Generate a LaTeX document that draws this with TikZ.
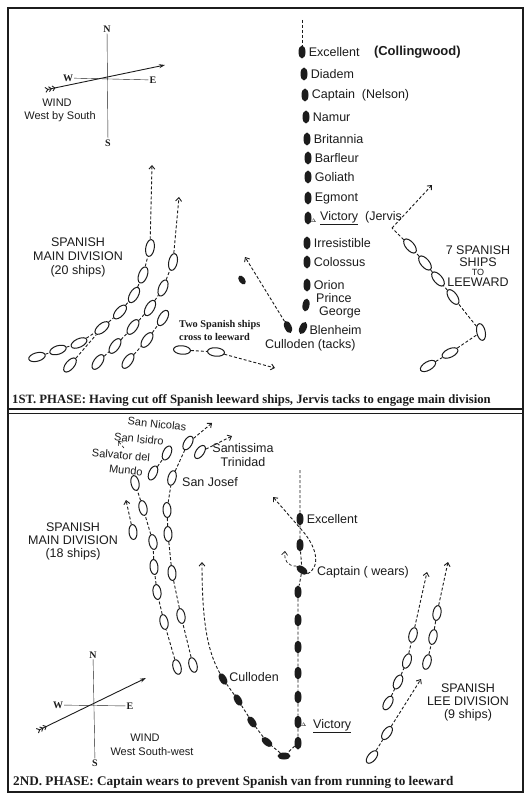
\documentclass[tikz,border=0pt]{standalone}
\usepackage{fontspec}
\setmainfont{Liberation Serif}
\setsansfont{Liberation Sans}
\usetikzlibrary{arrows.meta}
\usetikzlibrary{positioning}
\usetikzlibrary{shapes.geometric}
\definecolor{inkBlack}{RGB}{28,28,28}
\tikzstyle{spship} = [draw=inkBlack, line width=1pt, fill=white, ellipse, minimum width=8.5pt, minimum height=17pt, inner sep=0pt]
\tikzstyle{spshipb} = [spship, minimum width=8pt, minimum height=15pt]
\tikzstyle{brship} = [fill=inkBlack, ellipse, minimum width=7pt, minimum height=13pt, inner sep=0pt]
\tikzstyle{course} = [inkBlack, line width=0.9pt, dash pattern=on 3pt off 2pt]
\tikzstyle{arrow} = [course, -{Straight Barb[length=3.5pt,width=6pt]}]
\tikzstyle{wind} = [inkBlack, line width=0.9pt, arrows={Straight Barb[reversed,length=2.5pt,width=5pt]Straight Barb[reversed,length=2.5pt,width=5pt]Straight Barb[reversed,length=2.5pt,width=5pt]-Stealth[length=6pt,width=4pt]}]
\tikzstyle{compass} = [font=\fontsize{10}{10}\selectfont\bfseries, inner sep=1pt, text=inkBlack]
\tikzstyle{shiptag} = [font=\fontsize{12.5}{14}\selectfont\sffamily, inner sep=1pt, text=inkBlack]
\tikzstyle{vantag} = [font=\fontsize{11}{12}\selectfont\sffamily, inner sep=0pt, text=inkBlack]
\tikzstyle{fleettag} = [font=\fontsize{12.5}{14}\selectfont\sffamily, align=center, inner sep=1pt, text=inkBlack]
\tikzstyle{windtag} = [font=\fontsize{11}{12}\selectfont\sffamily, inner sep=1pt, text=inkBlack]
\tikzstyle{notetag} = [font=\fontsize{10.3}{13}\selectfont\bfseries, align=left, inner sep=1pt, text=inkBlack]
\tikzstyle{caption} = [font=\fontsize{12.7}{13}\selectfont\bfseries, inner sep=0pt, text=inkBlack, anchor=west]

\begin{document}
\begin{tikzpicture}[x=1pt,y=-1pt]

    \useasboundingbox (0,0) rectangle (531,802);
    \fill[white] (0,0) rectangle (531,802);

    % frame of both phases
    \draw[inkBlack, line width=1.6pt] (8,8) rectangle (523,792);
    \draw[inkBlack, line width=1.2pt] (8,409) -- (523,409);
    \draw[inkBlack, line width=0.5pt] (8,413) -- (523,413);

    %%%%%%%% 1st phase %%%%%%%%
    \node[compass] (N1) at (107,29) {N};
    \node[compass] (S1) at (108,143) {S};
    \node[compass] (W1) at (68,78) {W};
    \node[compass] (E1) at (153,80) {E};
    \draw[inkBlack, thin] (N1) -- (S1);
    \draw[inkBlack, thin] (W1) -- (E1);
    \coordinate (WindFrom1) at (45,90);
    \coordinate (WindTo1) at (165,65);
    \draw[wind] (WindFrom1) -- (WindTo1);
    \node[windtag] at (57,103) {WIND};
    \node[windtag] at (60,117) {West by South};

    % British line
    \coordinate (BrTop1) at (302,20);
    \node[brship] (Excellent) at (302,52) {};
    \draw[course] (BrTop1) -- (Excellent);
    \node[shiptag, right=2pt of Excellent] (ExcellentTag) {Excellent};
    \node[shiptag, font=\fontsize{13}{14}\selectfont\sffamily\bfseries, right=12pt of ExcellentTag] {(Collingwood)};
    \node[brship] (Captain) at (305,95) {};
    \node[shiptag, right=2pt of Captain] {Captain\ \ (Nelson)};
    \foreach \n/\x/\y in {Diadem/304/74, Namur/306/117, Britannia/307/139,
        Barfleur/308/158, Goliath/308/177, Egmont/308/198,
        Irresistible/307/243, Colossus/307/262, Orion/307/285}{
      \node[brship] (\n) at (\x,\y) {};
      \node[shiptag, right=2pt of \n] {\n};
    }
    \node[brship] (Victory) at (308,218) {};
    \node[font=\tiny, inner sep=0pt, anchor=south west] (VictoryMark) at (Victory.south east) {$\Delta$};
    \node[shiptag, anchor=west] (VictoryTag) at (319,218) {\underline{Victory}\ \ (Jervis};
    \node[brship, rotate=-10] (PrinceGeorge) at (306,305) {};
    \node[shiptag, anchor=west] at (315,298) {Prince};
    \node[shiptag, anchor=west] at (318,312) {George};
    \node[brship, rotate=-25] (Blenheim) at (303,328) {};
    \node[shiptag, right=2pt of Blenheim] {Blenheim};
    \node[brship, rotate=25] (Culloden) at (288,327) {};
    \node[shiptag, anchor=west] at (264,345) {Culloden (tacks)};
    \node[brship, rotate=35, minimum width=6pt, minimum height=10pt] (CullodenTurn) at (242,280) {};
    \coordinate (CullodenTo) at (245,257);
    \draw[arrow] (Culloden) -- (CullodenTo);

    % two ships crossing
    \node[spship, rotate=-95] (Cross1) at (182,350) {};
    \node[spship, rotate=-95] (Cross2) at (216,352) {};
    \coordinate (CrossTo) at (275,368);
    \draw[course] (Cross1) -- (Cross2);
    \draw[arrow] (Cross2) -- (CrossTo);
    \node[notetag, anchor=west] at (178,330) {Two Spanish ships\\cross to leeward};

    % Spanish ships to leeward
    \node[spship, rotate=-60] (Lee1) at (428,366) {};
    \node[spship, rotate=-65] (Lee2) at (450,353) {};
    \node[spship, rotate=12] (Lee3) at (481,332) {};
    \node[spship, rotate=35] (Lee4) at (453,297) {};
    \node[spship, rotate=40] (Lee5) at (438,279) {};
    \node[spship, rotate=40] (Lee6) at (425,263) {};
    \node[spship, rotate=40] (Lee7) at (410,246) {};
    \coordinate (LeeTurn) at (392,228);
    \coordinate (LeeTo) at (432,185);
    \draw[course] (Lee1) -- (Lee2) -- (Lee3) -- (Lee4) -- (Lee5) -- (Lee6) -- (Lee7) -- (LeeTurn);
    \draw[arrow] (LeeTurn) -- (LeeTo);
    \node[fleettag] at (478,266) {7 SPANISH\\[-2pt]SHIPS\\[-5pt]{\fontsize{9}{9}\selectfont TO}\\[-3pt]LEEWARD};

    % Spanish main division
    \foreach \n/\x/\y/\r in {A1/37/357/-75, A2/58/350/-72, A3/79/343/-65, A4/102/328/-50,
        A5/120/312/-42, A6/134/295/-30, A7/143/275/-20, A8/150/248/-10,
        B1/70/365/-40,
        C1/98/362/-35, C2/115/346/-35, C3/133/327/-35, C4/150/308/-30,
        C5/163/288/-22, C6/173/262/-12,
        D1/128/361/-35, D2/147/340/-35, D3/163/318/-30}{
      \node[spship, rotate=\r] (\n) at (\x,\y) {};
    }
    \coordinate (MainToA) at (152,165);
    \coordinate (MainToC) at (179,197);
    \draw[course] (A1) -- (A2) -- (A3) -- (A4) -- (A5) -- (A6) -- (A7) -- (A8);
    \draw[arrow] (A8) -- (MainToA);
    \draw[course] (B1) -- (A4);
    \draw[course] (C1) -- (C2) -- (C3) -- (C4) -- (C5) -- (C6);
    \draw[arrow] (C6) -- (MainToC);
    \draw[course] (D1) -- (D2) -- (D3);
    \node[fleettag] at (78,257) {SPANISH\\MAIN DIVISION\\(20 ships)};

    \node[caption] at (12,400) {1ST. PHASE: Having cut off Spanish leeward ships, Jervis tacks to engage main division};

    %%%%%%%% 2nd phase %%%%%%%%
    \node[compass] (N2) at (93,655) {N};
    \node[compass] (S2) at (95,763) {S};
    \node[compass] (W2) at (58,705) {W};
    \node[compass] (E2) at (130,706) {E};
    \draw[inkBlack, thin] (N2) -- (S2);
    \draw[inkBlack, thin] (W2) -- (E2);
    \coordinate (WindFrom2) at (37,731);
    \coordinate (WindTo2) at (146,678);
    \draw[wind] (WindFrom2) -- (WindTo2);
    \node[windtag] at (145,738) {WIND};
    \node[windtag] at (152,752) {West South-west};

    % Spanish van
    \node[spshipb, rotate=-30] (SanNicolas) at (188,443) {};
    \node[spshipb, rotate=-25] (SanIsidro) at (167,453) {};
    \node[spshipb, rotate=-35] (Trinidad) at (200,452) {};
    \node[spshipb, rotate=-25] (Salvator) at (153,473) {};
    \node[spshipb, rotate=-15] (SanJosef) at (172,478) {};
    \coordinate (NicolasTo) at (212,423);
    \coordinate (TrinidadTo) at (232,436);
    \coordinate (IsidroFrom) at (124,448);
    \coordinate (IsidroTo) at (118,441);
    \draw[course] (Salvator) -- (SanIsidro);
    \draw[course] (SanJosef) -- (SanNicolas);
    \draw[arrow] (SanNicolas) -- (NicolasTo);
    \draw[arrow] (Trinidad) -- (TrinidadTo);
    \draw[arrow, line width=0.6pt] (IsidroFrom) -- (IsidroTo);
    \node[vantag, rotate=-6] at (157,424) {San Nicolas};
    \node[vantag, rotate=-6] at (139,439) {San Isidro};
    \node[vantag, rotate=-5] at (121,455) {Salvator del};
    \node[vantag, rotate=-6] at (126,470) {Mundo};
    \node[shiptag] at (243,448) {Santissima};
    \node[shiptag] at (243,462) {Trinidad};
    \node[shiptag] at (210,482) {San Josef};

    % Spanish main division
    \foreach \n/\x/\y/\r in {M1/135/483/12, M2/143/508/12, M3/153/542/10, M4/154/567/6,
        M5/157/592/8, M6/164/622/12, M7/177/667/15,
        K1/167/510/3, K2/168/534/3, K3/172/573/6, K4/181/616/10, K5/193/665/15,
        Detached/133/532/5}{
      \node[spshipb, rotate=\r] (\n) at (\x,\y) {};
    }
    \coordinate (DetachedTo) at (126,500);
    \draw[course] (M7) -- (M6) -- (M5) -- (M4) -- (M3) -- (M2) -- (M1);
    \draw[course] (K5) -- (K4) -- (K3) -- (K2) -- (K1) -- (SanJosef);
    \draw[arrow] (Detached) -- (DetachedTo);
    \node[fleettag] at (73,541) {SPANISH\\[-1pt]MAIN DIVISION\\[-1pt](18 ships)};

    % British line
    \coordinate (BrTop2) at (300,470);
    \node[brship] (Excellent2) at (300,519) {};
    \node[shiptag, right=2pt of Excellent2] {Excellent};
    \node[brship] (Follow2) at (300,545) {};
    \node[brship, rotate=55] (Captain2) at (302,570) {};
    \node[shiptag, anchor=west] at (316,572) {Captain ( wears)};
    \foreach \n/\y in {F1/592, F2/620, F3/647, F4/673, F5/697, Victory2/722, F6/743}{
      \node[brship] (\n) at (298,\y) {};
    }
    \node[font=\tiny, inner sep=0pt, anchor=south west] (VictoryMark2) at (Victory2.south east) {$\Delta$};
    \node[shiptag, anchor=west] at (312,726) {\underline{Victory}};
    \node[brship, rotate=90] (Turn2) at (284,756) {};
    \node[brship, rotate=50] (G1) at (267,742) {};
    \node[brship, rotate=35] (G2) at (252,722) {};
    \node[brship, rotate=30] (G3) at (238,700) {};
    \node[brship, rotate=30] (Culloden2) at (223,679) {};
    \node[shiptag, right=2pt of Culloden2] {Culloden};
    \coordinate (CullodenTo2) at (202,562);
    \coordinate (WearTo) at (273,497);
    \coordinate (WearBack) at (285,551);
    \draw[course] (BrTop2) -- (Excellent2) -- (Follow2) -- (Captain2) -- (F1) -- (F2) -- (F3) -- (F4)
        -- (F5) -- (Victory2) -- (F6) -- (Turn2) -- (G1) -- (G2) -- (G3) -- (Culloden2);
    \draw[arrow] (Culloden2) .. controls (207,650) and (202,620) .. (CullodenTo2);
    \draw[arrow] (Captain2.south) .. controls (322,566) and (316,545) .. (300,528) -- (WearTo);
    \draw[arrow, line width=0.7pt] (Captain2.north) .. controls (287,566) and (284,560) .. (WearBack);

    % Spanish lee division
    \foreach \n/\x/\y/\r in {R1/437/613/-10, R2/433/637/-12, R3/427/662/-15,
        L1/413/635/-15, L2/407/661/-20, L3/398/682/-25, L4/388/703/-30,
        L5/387/733/-35, L6/372/757/-40}{
      \node[spshipb, rotate=\r] (\n) at (\x,\y) {};
    }
    \coordinate (LeeUp) at (421,679);
    \coordinate (LeeToR) at (448,562);
    \coordinate (LeeToL) at (427,572);
    \draw[course] (L6) -- (L5);
    \draw[arrow] (L5) -- (LeeUp);
    \draw[course] (R3) -- (R2) -- (R1);
    \draw[arrow] (R1) -- (LeeToR);
    \draw[course] (L4) -- (L3) -- (L2) -- (L1);
    \draw[arrow] (L1) -- (LeeToL);
    \node[fleettag] at (468,702) {SPANISH\\[-1pt]LEE DIVISION\\[-1pt](9 ships)};

    \node[caption, font=\fontsize{13.2}{14}\selectfont\bfseries] at (13,782) {2ND. PHASE: Captain wears to prevent Spanish van from running to leeward};

\end{tikzpicture}
\end{document}
